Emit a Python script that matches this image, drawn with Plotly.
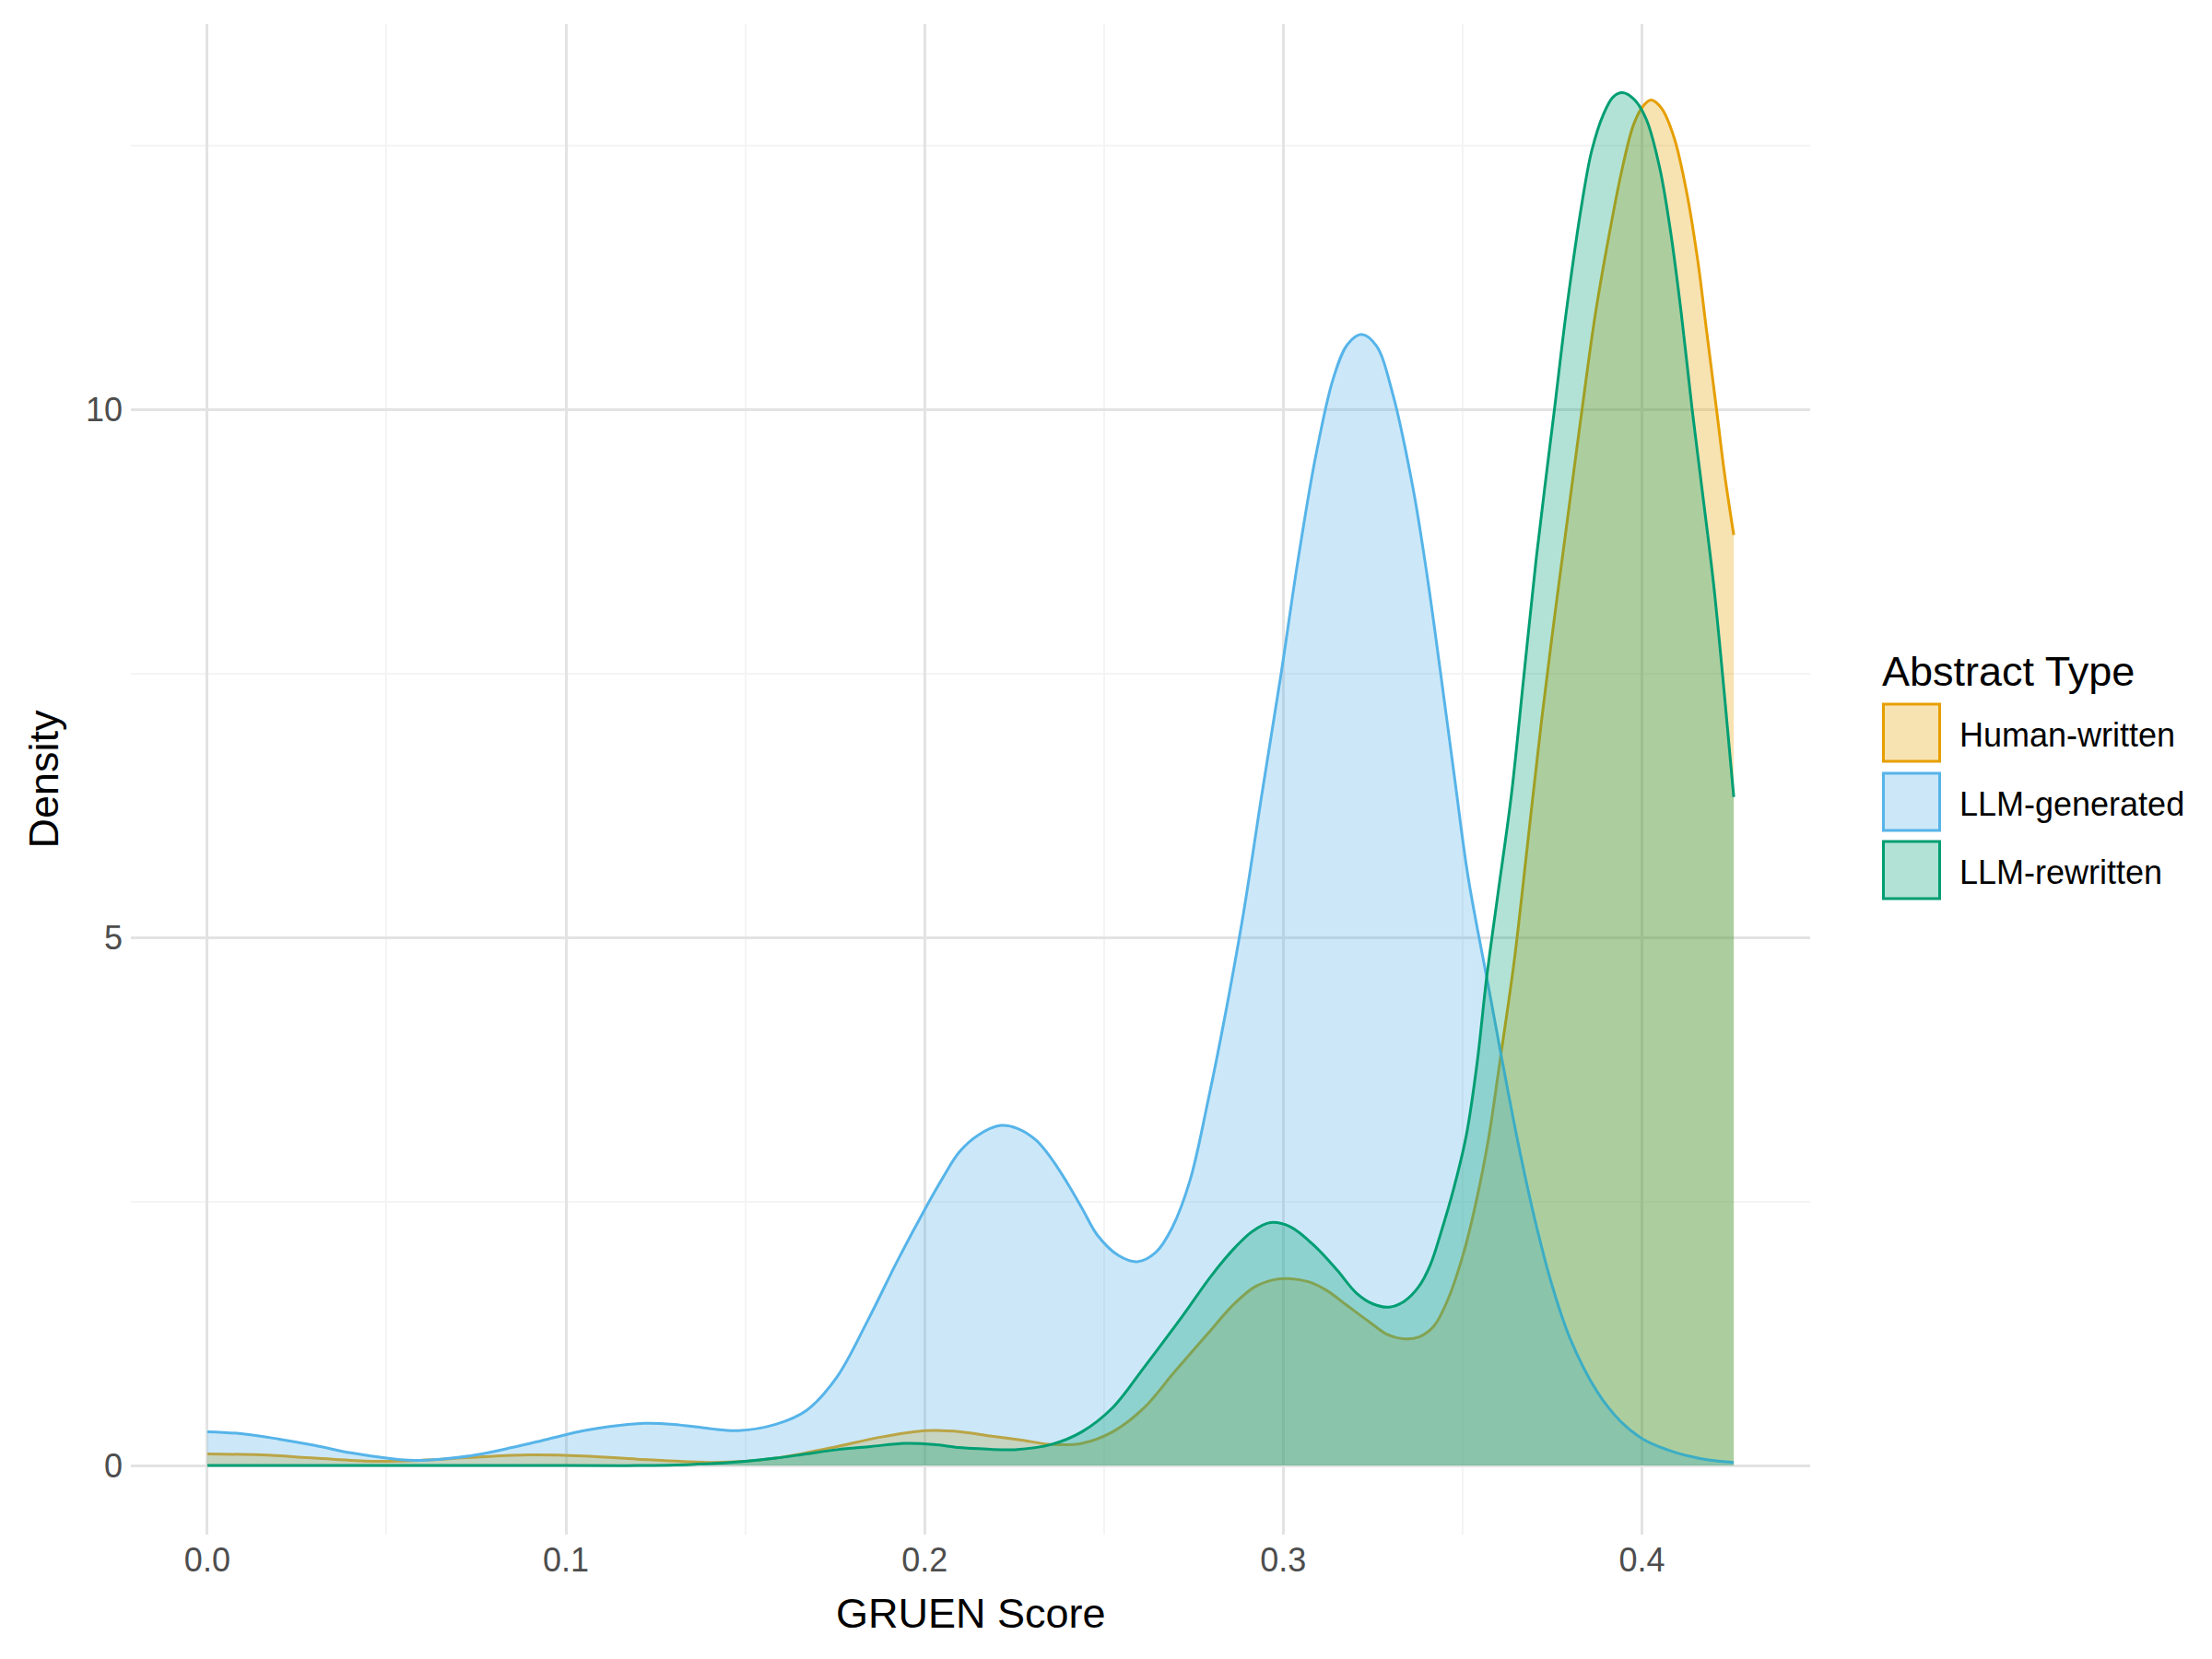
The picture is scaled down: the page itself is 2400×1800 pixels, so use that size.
import plotly.graph_objects as go

# ---------------- data ----------------
series_names = ["Human-written", "LLM-generated", "LLM-rewritten"]
line_colors = ["#E69F00", "#56B4E9", "#009E73"]
fill_colors = ["rgba(230,159,0,0.3)", "rgba(86,180,233,0.3)", "rgba(0,158,115,0.3)"]

human_x = [0.000, 0.015, 0.030, 0.046, 0.060, 0.075, 0.090, 0.105, 0.120, 0.140, 0.150,
           0.1585, 0.167, 0.1756, 0.188, 0.2003, 0.210, 0.2182, 0.227, 0.2353, 0.2439,
           0.2525, 0.261, 0.270, 0.279, 0.286, 0.292, 0.2975, 0.3015, 0.307, 0.312, 0.318,
           0.324, 0.329, 0.3333, 0.338, 0.342, 0.346, 0.350, 0.353, 0.357, 0.3605, 0.3644,
           0.368, 0.372, 0.3755, 0.379, 0.3833, 0.387, 0.391, 0.3945, 0.3977, 0.4005,
           0.4026, 0.4055, 0.409, 0.4125, 0.4156, 0.418, 0.4208, 0.423, 0.4256]
human_y = [0.11, 0.10, 0.07, 0.04, 0.05, 0.08, 0.10, 0.09, 0.06, 0.03, 0.04,
           0.07, 0.12, 0.18, 0.27, 0.33, 0.32, 0.28, 0.24, 0.20, 0.21,
           0.32, 0.54, 0.90, 1.25, 1.52, 1.69, 1.76, 1.77, 1.74, 1.66, 1.51,
           1.36, 1.24, 1.20, 1.22, 1.32, 1.58, 1.98, 2.38, 3.05, 3.85, 4.78,
           5.85, 7.05, 8.00, 8.90, 10.00, 10.90, 11.68, 12.28, 12.70, 12.88,
           12.93, 12.85, 12.57, 12.05, 11.40, 10.75, 10.00, 9.40, 8.81]

generated_x = [0.000, 0.010, 0.020, 0.030, 0.040, 0.050, 0.056, 0.065, 0.075, 0.085, 0.095,
               0.105, 0.115, 0.122, 0.130, 0.140, 0.148, 0.1585, 0.167, 0.1756, 0.1841,
               0.1926, 0.2003, 0.205, 0.2097, 0.215, 0.2213, 0.226, 0.2311, 0.2355, 0.2397,
               0.244, 0.2482, 0.254, 0.2593, 0.2645, 0.269, 0.274, 0.279, 0.284, 0.289,
               0.294, 0.2995, 0.304, 0.309, 0.314, 0.318, 0.322, 0.326, 0.3305, 0.3362,
               0.340, 0.3438, 0.348, 0.3515, 0.3574, 0.3615, 0.3655, 0.370, 0.375, 0.380,
               0.3875, 0.394, 0.4003, 0.407, 0.413, 0.419, 0.4256]
generated_y = [0.32, 0.30, 0.25, 0.19, 0.12, 0.07, 0.05, 0.06, 0.10, 0.17, 0.25,
               0.33, 0.38, 0.40, 0.39, 0.35, 0.33, 0.39, 0.52, 0.84, 1.37,
               1.95, 2.44, 2.72, 2.97, 3.13, 3.22, 3.19, 3.08, 2.90, 2.68,
               2.43, 2.18, 1.99, 1.93, 2.02, 2.25, 2.70, 3.45, 4.30, 5.25,
               6.35, 7.52, 8.55, 9.55, 10.30, 10.62, 10.71, 10.60, 10.15, 9.25,
               8.45, 7.52, 6.45, 5.58, 4.50, 3.75, 3.05, 2.35, 1.70, 1.20,
               0.70, 0.42, 0.25, 0.15, 0.09, 0.05, 0.03]

rewritten_x = [0.000, 0.050, 0.100, 0.120, 0.135, 0.150, 0.1585, 0.167, 0.1756, 0.185,
               0.1944, 0.2025, 0.2097, 0.2175, 0.2251, 0.2354, 0.2439, 0.2525, 0.261, 0.272,
               0.280, 0.2867, 0.2915, 0.2964, 0.302, 0.309, 0.315, 0.3205, 0.325, 0.3295,
               0.3335, 0.3377, 0.341, 0.344, 0.3475, 0.351, 0.354, 0.3567, 0.360, 0.3636,
               0.367, 0.3705, 0.3756, 0.379, 0.3833, 0.386, 0.3892, 0.392, 0.3946, 0.398,
               0.4013, 0.405, 0.408, 0.411, 0.414, 0.417, 0.420, 0.423, 0.4256]
rewritten_y = [0.00, 0.00, 0.00, 0.00, 0.01, 0.04, 0.07, 0.11, 0.15, 0.18,
               0.21, 0.20, 0.17, 0.155, 0.15, 0.20, 0.32, 0.55, 0.92, 1.42,
               1.80, 2.07, 2.22, 2.30, 2.26, 2.07, 1.85, 1.63, 1.53, 1.50,
               1.55, 1.69, 1.90, 2.21, 2.62, 3.12, 3.80, 4.62, 5.45, 6.35,
               7.45, 8.58, 10.00, 10.95, 11.96, 12.45, 12.79, 12.96, 13.00, 12.93,
               12.74, 12.28, 11.68, 10.90, 10.00, 9.18, 8.34, 7.30, 6.33]

x_ticks = [0.0, 0.1, 0.2, 0.3, 0.4]
x_tick_labels = ["0.0", "0.1", "0.2", "0.3", "0.4"]
y_ticks = [0, 5, 10]
y_tick_labels = ["0", "5", "10"]

FONT = "Liberation Sans, Arial, sans-serif"

fig = go.Figure()
for name, xs, ys, lc, fc in zip(series_names,
                                [human_x, generated_x, rewritten_x],
                                [human_y, generated_y, rewritten_y],
                                line_colors, fill_colors):
    fig.add_trace(go.Scatter(
        x=xs, y=ys, name=name, mode="lines",
        line=dict(color=lc, width=3, shape="spline", smoothing=1.0),
        fill="tozeroy", fillcolor=fc, showlegend=False,
        hoverinfo="x+y+name",
    ))

# ---------------- layout geometry ----------------
W, H = 2400, 1800
OFF = 8  # page body margin of the browser
# panel edges in screen pixels
PL, PR, PT, PB = 142, 1964, 26, 1665


def px_x(x):
    return (x - PL) / (PR - PL)


def px_y(y):
    return (PB - y) / (PB - PT)


shapes = []
annotations = []

# legend drawn manually to match ggplot's large keys
key_tops = [764, 839, 913]
key_h = 62
for name, lc, fc, top in zip(series_names, line_colors, fill_colors, key_tops):
    shapes.append(dict(type="rect", xref="paper", yref="paper",
                       x0=px_x(2043.5), x1=px_x(2104.5),
                       y0=px_y(top + key_h), y1=px_y(top),
                       line=dict(color=lc, width=3), fillcolor=fc, layer="above"))
    annotations.append(dict(text=name, xref="paper", yref="paper",
                            x=px_x(2124), y=px_y(top + key_h / 2 + 2),
                            xanchor="left", yanchor="middle", showarrow=False,
                            font=dict(family=FONT, size=36, color="black")))
annotations.append(dict(text="Abstract Type", xref="paper", yref="paper",
                        x=px_x(2040), y=px_y(729),
                        xanchor="left", yanchor="middle", showarrow=False,
                        font=dict(family=FONT, size=45, color="black")))

# axis titles
annotations.append(dict(text="GRUEN Score", xref="paper", yref="paper",
                        x=0.5, y=px_y(1750), xanchor="center", yanchor="middle",
                        showarrow=False, font=dict(family=FONT, size=45, color="black")))
annotations.append(dict(text="Density", xref="paper", yref="paper",
                        x=px_x(47), y=0.5, xanchor="center", yanchor="middle",
                        textangle=-90, showarrow=False,
                        font=dict(family=FONT, size=45, color="black")))

fig.update_layout(
    width=W, height=H,
    margin=dict(l=PL - OFF, r=W - (PR - OFF), t=PT - OFF, b=H - (PB - OFF), pad=0),
    paper_bgcolor="white", plot_bgcolor="white",
    font=dict(family=FONT),
    shapes=shapes, annotations=annotations,
    showlegend=False,
)
fig.update_xaxes(
    range=[-0.0213, 0.4469],
    tickvals=x_ticks, ticktext=x_tick_labels,
    tickfont=dict(family=FONT, size=36, color="#4D4D4D"),
    showgrid=True, gridcolor="#E3E3E3", gridwidth=2.5,
    minor=dict(dtick=0.05, tick0=0, showgrid=True, gridcolor="#F4F4F4", gridwidth=1.5),
    zeroline=False, showline=False, ticks="", ticklabelstandoff=3,
)
fig.update_yaxes(
    range=[-0.654, 13.65],
    tickvals=y_ticks, ticktext=y_tick_labels,
    tickfont=dict(family=FONT, size=36, color="#4D4D4D"),
    showgrid=True, gridcolor="#E3E3E3", gridwidth=2.5,
    minor=dict(dtick=2.5, tick0=0, showgrid=True, gridcolor="#F4F4F4", gridwidth=1.5),
    zeroline=False, showline=False, ticks="", ticklabelstandoff=8,
)

fig.write_html("out.html")
